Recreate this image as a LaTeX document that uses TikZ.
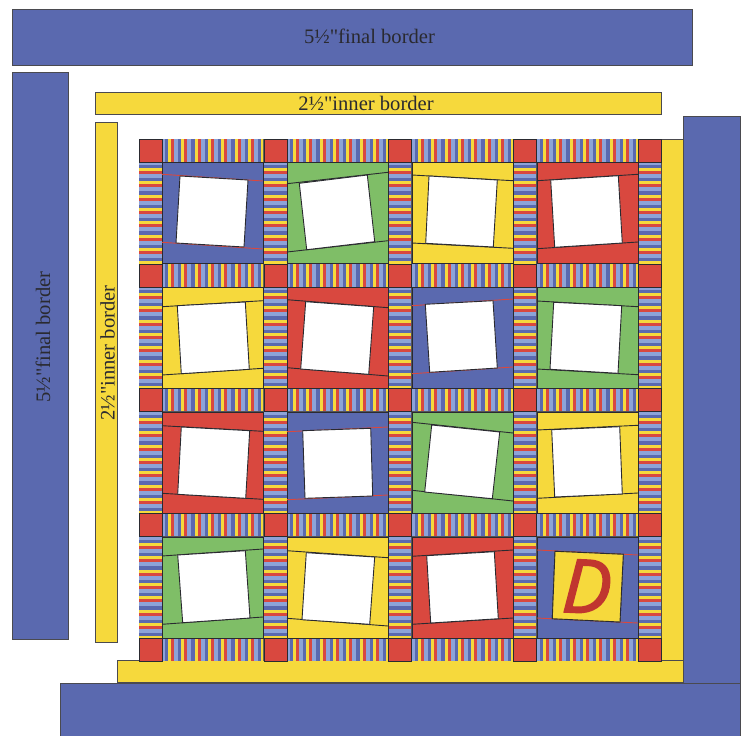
\documentclass[tikz,border=0pt]{standalone}
\usepackage{fontspec}
\newfontfamily\labelfont{Liberation Serif}
\newfontfamily\letterfont[FakeBold=2.2]{Open Sans}
\definecolor{qblue}{HTML}{5A69AF}
\definecolor{qyellow}{HTML}{F6D93C}
\definecolor{qred}{HTML}{D9483F}
\definecolor{qgreen}{HTML}{7FBE67}
\definecolor{qlight}{HTML}{8DA3D8}
\definecolor{qdred}{HTML}{C0362F}
\definecolor{qink}{HTML}{2A2A30}
\tikzset{
  bandblue/.style={fill=qblue,draw=qink!85,line width=0.9pt},
  bandyellow/.style={fill=qyellow,draw=qink!85,line width=0.9pt},
  cornersq/.style={fill=qred,draw=qink,line width=1pt},
  blockbox/.style={draw=qink,line width=1pt},
  seam/.style={line width=0.9pt},
  photo/.style={fill=white,draw=qink,line width=0.9pt,line join=miter},
  label/.style={text=qink,font=\labelfont\fontsize{20.6}{22}\selectfont,inner sep=0pt},
}
\newcommand{\hsash}[2]{%
  \begin{scope}
    \clip (#1,#2) rectangle ++(101,23);
    \fill[qblue] (#1,#2) rectangle ++(101,23);
    \foreach \k in {0,...,8}{
      \pgfmathsetmacro{\s}{#1-7.3+13.3*\k}
      \fill[qyellow] (\s,#2) rectangle ++(3,23);
      \fill[qred] (\s+3,#2) rectangle ++(3,23);
      \fill[qlight] (\s+6,#2) rectangle ++(4,23);
    }
  \end{scope}}
\newcommand{\vsash}[2]{%
  \begin{scope}
    \clip (#1,#2) rectangle ++(23,101);
    \fill[qblue] (#1,#2) rectangle ++(23,101);
    \foreach \k in {0,...,8}{
      \pgfmathsetmacro{\s}{#2-7.3+13.3*\k}
      \fill[qyellow] (#1,\s) rectangle ++(23,3);
      \fill[qred] (#1,\s+3) rectangle ++(23,3);
      \fill[qlight] (#1,\s+6) rectangle ++(23,4);
    }
  \end{scope}}
\begin{document}
\begin{tikzpicture}[x=1pt,y=-1pt]
\useasboundingbox (0,0) rectangle (742,736);
% borders
\path[bandblue] (12,9) rectangle (692,65);
\path[bandblue] (12,72) rectangle (68,639);
\path[bandyellow] (95,92) rectangle (661,114);
\path[bandyellow] (95,122) rectangle (117,642);
\path[bandyellow] (661,139) rectangle (683,660);
\path[bandyellow] (117,660) rectangle (683,682);
\path[bandblue] (683,116) rectangle (740,683);
\path[bandblue] (60,683) rectangle (740,738);
% quilt backing, seen between the pieces
\fill[qink!80] (139,139) rectangle (661,661);
% sashing
\foreach \xx in {162,287,412,537}{
  \foreach \yy in {139,264,388,513,638}{\hsash{\xx}{\yy}}
}
\foreach \yy in {162,287,412,537}{
  \foreach \xx in {139,264,388,513,638}{\vsash{\xx}{\yy}}
}
\foreach \xx in {139,264,388,513,638}{
  \foreach \yy in {139,264,388,513,638}{
    \path[cornersq] (\xx,\yy) rectangle ++(23,23);
  }
}
% blocks
\foreach \X/\Y/\col/\lc/\ax/\ay/\bx/\by/\cx/\cy/\dx/\dy/\La/\Ra/\Lb/\Rb in {
  162/162/qblue/qred/180/176/248/180/244/247/176/243/174.3/181/242.3/249,
  287/162/qgreen/qink/299.3/183.3/367.3/175/374.7/241.7/306.7/249.7/183.7/172.3/252/240.7,
  412/162/qyellow/qink/429/176/497.3/180/493.3/247/425.7/243.3/175/180.7/243/248.3,
  537/162/qred/qink/550.7/180/618.3/175.7/622.3/243/554.7/247.3/180.7/174.3/248.7/242,
  162/287/qyellow/qink/177.3/305.7/245.3/302/249.3/369.3/181.3/373.7/306.7/300.7/375/368.3,
  287/287/qred/qink/305.7/301.7/373.7/306.7/368.7/374.3/300.7/369/299.7/307.7/367.7/376,
  412/287/qblue/qred/425.3/304.3/493/300.7/497.3/368/429.7/372.3/305.7/299/373.7/367,
  537/287/qgreen/qink/553.7/302.3/621.7/305.7/618/373.3/550/369.3/301/306.7/369/374.7,
  162/412/qred/qink/181.3/427/249.7/430.7/245.7/498.3/177.7/494.3/425.7/431.3/493.3/499.3,
  287/412/qblue/qred/302.7/430.7/370.7/428.3/372.7/496/305/498.3/431.7/427/499.7/495,
  412/412/qgreen/qink/431.7/425/499.7/432/492.3/498.7/424.7/492/422.3/433/490.3/501,
  537/412/qyellow/qink/551.7/429.7/619.7/426.7/622.3/494/554.7/497/430/425.3/498.3/493,
  162/537/qgreen/qink/177.7/555/245.3/550.7/250/618/182.7/622.7/556/549/624.3/617,
  287/537/qyellow/qink/306.3/552.7/374.7/557/369.7/624.3/302/619.7/550.7/557.7/618.3/626,
  412/537/qred/qink/426.7/555.7/494.3/551.7/498.3/618.7/430.7/623/556.3/550/624.3/618,
  537/537/qblue/qred/555/551.3/623.3/554.3/620/622/552.3/618.7/550/555/618/623%
}{
  \path[blockbox,fill=\col] (\X,\Y) rectangle ++(101,101);
  \draw[seam,draw=\lc] (\X,\La) -- (\X+101,\Ra);
  \draw[seam,draw=\lc] (\X,\Lb) -- (\X+101,\Rb);
  \path[photo] (\ax,\ay) -- (\bx,\by) -- (\cx,\cy) -- (\dx,\dy) -- cycle;
}
% letter patch
\path[photo,fill=qyellow] (555,551.3) -- (623.3,554.3) -- (620,622) -- (552.3,618.7) -- cycle;
\node[text=qdred,inner sep=0pt,rotate=-2.5,font=\letterfont\itshape\fontsize{74}{74}\selectfont] (letterD) at (587,586.5) {D};
% labels
\node[label] (finaltop) at (369.5,36) {5½"final border};
\node[label] (innertop) at (366,103) {2½"inner border};
\node[label,rotate=90] (finalleft) at (43,337) {5½"final border};
\node[label,rotate=90] (innerleft) at (107.5,353) {2½"inner border};
\end{tikzpicture}
\end{document}
